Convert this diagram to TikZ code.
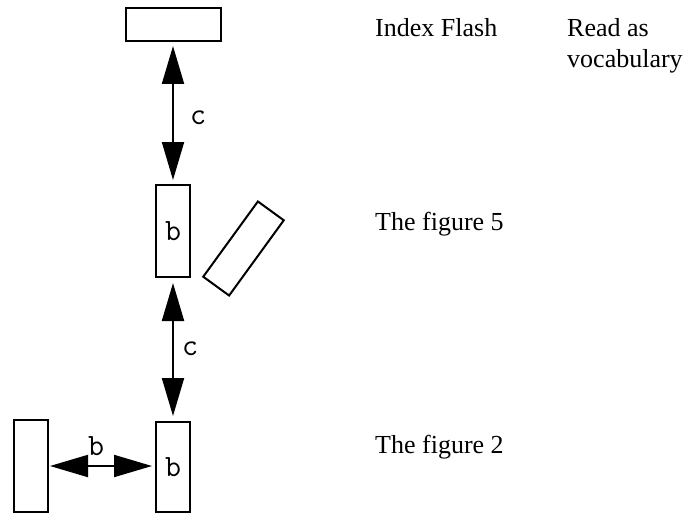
\documentclass[tikz,border=0pt]{standalone}
\usepackage{fontspec}
\setmainfont{Liberation Serif}
\usetikzlibrary{arrows.meta}
\begin{document}
\begin{tikzpicture}[x=1pt,y=1pt,
  box/.style={draw=black,line width=2pt,fill=white,inner sep=0pt},
  conn/.style={line width=2pt,{Triangle[length=38pt,width=22pt]}-{Triangle[length=38pt,width=22pt]}},
  lbl/.style={font=\ttfamily\fontsize{31}{34}\selectfont,inner sep=0pt},
  txt/.style={font=\fontsize{26}{31}\selectfont,inner sep=0pt,anchor=base west}]
\useasboundingbox (0,0) rectangle (692,515);
\node[box,minimum width=95pt,minimum height=33pt] (top) at (173,490.5) {};
\node[box,minimum width=34pt,minimum height=92pt,lbl,draw,line width=2pt] (mid) at (173,284) {b};
\node[box,minimum width=32pt,minimum height=93pt,rotate=-36] (tilt) at (243.5,266.5) {};
\node[box,minimum width=34pt,minimum height=90pt,lbl,draw,line width=2pt] (bot) at (173,48) {b};
\node[box,minimum width=34pt,minimum height=92pt] (left) at (31,49) {};
\draw[conn,shorten <=4pt,shorten >=4pt] (top.south) -- (mid.north);
\draw[conn,shorten <=5pt,shorten >=5pt] (mid.south) -- (bot.north);
\draw[conn,shorten <=1pt,shorten >=3pt] (left.east) -- (bot.west |- left.east);
\node[lbl] (c1) at (198,397) {c};
\node[lbl] (c2) at (190,166) {c};
\node[lbl] (b1) at (96,69) {b};
\node[txt] (t1) at (375,478) {Index Flash};
\node[txt] (t2) at (567,478) {Read as};
\node[txt] (t3) at (567,447) {vocabulary};
\node[txt] (t4) at (375,285) {The figure 5};
\node[txt] (t5) at (375,62) {The figure 2};
\end{tikzpicture}
\end{document}
